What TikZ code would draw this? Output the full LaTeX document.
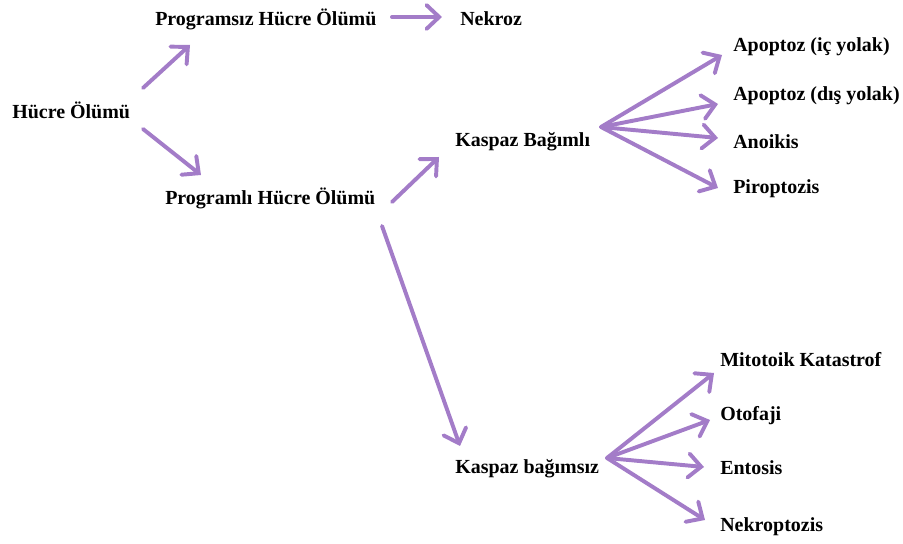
\documentclass[tikz,border=0pt]{standalone}
\usepackage{fontspec}
\setmainfont{Liberation Serif}
\usetikzlibrary{arrows.meta}
\definecolor{lila}{RGB}{163,124,200}
\tikzset{
  lbl/.style={font=\bfseries\fontsize{14.2}{16}\selectfont, inner sep=0pt, anchor=west},
  ok/.style={draw=lila, line width=2.8pt, line cap=round,
    -{Straight Barb[length=9pt,width=17pt,line cap=round]}},
}

\begin{document}
\begin{tikzpicture}[x=0.025cm, y=-0.025cm]
\useasboundingbox (0,0) rectangle (903,544);
% yazilar
\node[lbl] (hucre) at (12,110) {Hücre Ölümü};
\node[lbl] (progsiz) at (155,19) {Programsız Hücre Ölümü};
\node[lbl] (nekroz) at (460,19) {Nekroz};
\node[lbl] (proglu) at (165,198) {Programlı Hücre Ölümü};
\node[lbl] (kbagli) at (455,142) {Kaspaz Bağımlı};
\node[lbl] (kbagsiz) at (455,469) {Kaspaz bağımsız};
\node[lbl] (apic) at (733,47) {Apoptoz (iç yolak)};
\node[lbl] (apdis) at (733,96) {Apoptoz (dış yolak)};
\node[lbl] (anoikis) at (733,142) {Anoikis};
\node[lbl] (pirop) at (733,189) {Piroptozis};
\node[lbl] (mitot) at (720,360) {Mitotoik Katastrof};
\node[lbl] (otof) at (720,416) {Otofaji};
\node[lbl] (entos) at (720,468) {Entosis};
\node[lbl] (nekrop) at (720,527) {Nekroptozis};
% ok uclari
\coordinate (h-a) at (143,88);   \coordinate (h-b) at (190,45);
\coordinate (h-c) at (143,129);  \coordinate (h-d) at (201,175);
\coordinate (ps-a) at (392,17);  \coordinate (ps-b) at (442,17);
\coordinate (pl-a) at (392,202); \coordinate (pl-b) at (439,157);
\coordinate (pl-c) at (382,226); \coordinate (pl-d) at (460,446);
\coordinate (kbf) at (601,127);
\coordinate (kbf1) at (722,55);  \coordinate (kbf2) at (718,104);
\coordinate (kbf3) at (718,138); \coordinate (kbf4) at (718,188);
\coordinate (ksf) at (607,458);
\coordinate (ksf1) at (714,373); \coordinate (ksf2) at (710,420);
\coordinate (ksf3) at (704,467); \coordinate (ksf4) at (705,520);
% oklar
\draw[ok] (h-a) -- (h-b);
\draw[ok] (h-c) -- (h-d);
\draw[ok] (ps-a) -- (ps-b);
\draw[ok] (pl-a) -- (pl-b);
\draw[ok] (pl-c) -- (pl-d);
\foreach \t in {kbf1,kbf2,kbf3,kbf4}
  \draw[ok] (kbf) -- (\t);
\foreach \t in {ksf1,ksf2,ksf3,ksf4}
  \draw[ok] (ksf) -- (\t);
\end{tikzpicture}
\end{document}
